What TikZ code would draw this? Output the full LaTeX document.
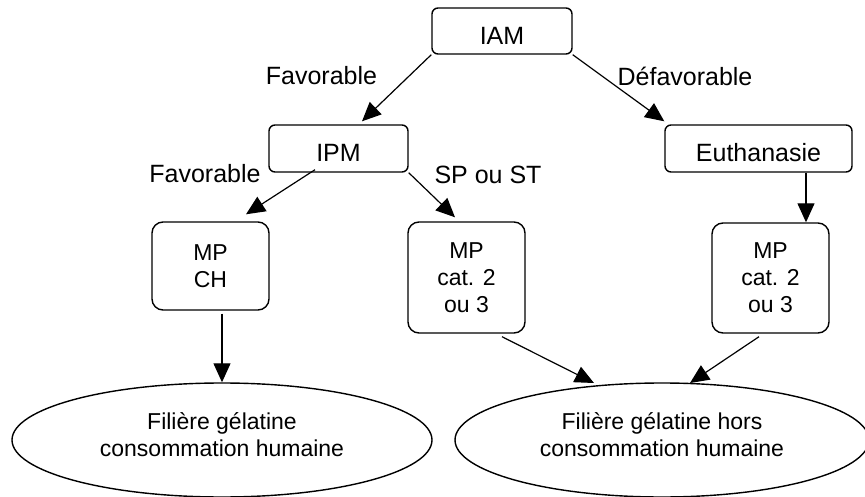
\documentclass[tikz,border=0pt]{standalone}
\usepackage{fontspec}
\setmainfont{Liberation Sans}
\usetikzlibrary{arrows.meta,shapes.geometric}
\begin{document}
\begin{tikzpicture}[x=1pt,y=-1pt,
  box/.style={draw, line width=1.4pt, rounded corners=6pt, inner sep=0pt,
    font=\fontsize{25}{30}\selectfont, text height=27pt, text depth=0pt},
  mpbox/.style={draw, line width=1.4pt, rounded corners=11pt, inner sep=0pt,
    minimum width=117pt, align=center, font=\fontsize{23}{27}\selectfont},
  oval/.style={draw, ellipse, line width=1.4pt, inner sep=0pt, minimum height=114pt},
  ovaltext/.style={align=center, inner sep=0pt, font=\fontsize{23}{27}\selectfont},
  lbl/.style={anchor=base, inner sep=0pt, font=\fontsize{25}{30}\selectfont},
  arr/.style={-{Triangle[length=19pt,width=17pt]}, line width=1.2pt}]
\useasboundingbox (0,0) rectangle (865,497);
% boxes
\node[box, minimum width=140pt, minimum height=46pt] (IAM) at (502,31) {IAM};
\node[box, minimum width=139pt, minimum height=47pt] (IPM) at (338.5,148.5) {IPM};
\node[box, minimum width=187pt, minimum height=47pt] (Euth) at (758.5,148.5) {Euthanasie};
\node[mpbox, minimum height=88pt] (MPCH) at (210.5,266) {MP\\CH};
\node[mpbox, minimum height=111pt] (MP2) at (466.5,277.5) {MP\\cat. 2\\ou 3};
\node[mpbox, minimum height=110pt] (MP3) at (770.5,278) {MP\\cat. 2\\ou 3};
\node[oval, minimum width=420pt] (E1) at (222,440) {};
\node[oval, minimum width=414pt] (E2) at (662,440) {};
\node[ovaltext] (T1) at ([yshift=5pt]E1.center) {Filière gélatine\\consommation humaine};
\node[ovaltext] (T2) at ([yshift=5pt]E2.center) {Filière gélatine hors\\consommation humaine};
% labels
\node[lbl] (L1) at (321.5,85) {Favorable};
\node[lbl] (L2) at (685,86) {Défavorable};
\node[lbl] (L3) at (205,183) {Favorable};
\node[lbl] (L4) at (488,184) {SP ou ST};
% connectors
\draw[arr] (IAM.south west) -- ([xshift=23.5pt,yshift=3pt]IPM.north);
\draw[arr] (IAM.south east) -- ([yshift=3pt]Euth.north west);
\draw[arr] ([xshift=-23.5pt,yshift=3pt]IPM.south) -- ([xshift=35.5pt,yshift=7pt]MPCH.north);
\draw[arr] (IPM.south east) -- ([xshift=-11.5pt,yshift=4pt]MP2.north);
\draw[arr] ([xshift=47.5pt]Euth.south) -- ([xshift=35.5pt]MP3.north);
\draw[arr] ([xshift=11.5pt,yshift=-3pt]MPCH.south) -- (E1.north);
\draw[arr] ([xshift=35.5pt,yshift=-3pt]MP2.south) -- ([xshift=-68pt,yshift=57pt]E2.center);
\draw[arr] ([xshift=-11.5pt,yshift=-3pt]MP3.south) -- ([xshift=28pt,yshift=57pt]E2.center);
\end{tikzpicture}
\end{document}
